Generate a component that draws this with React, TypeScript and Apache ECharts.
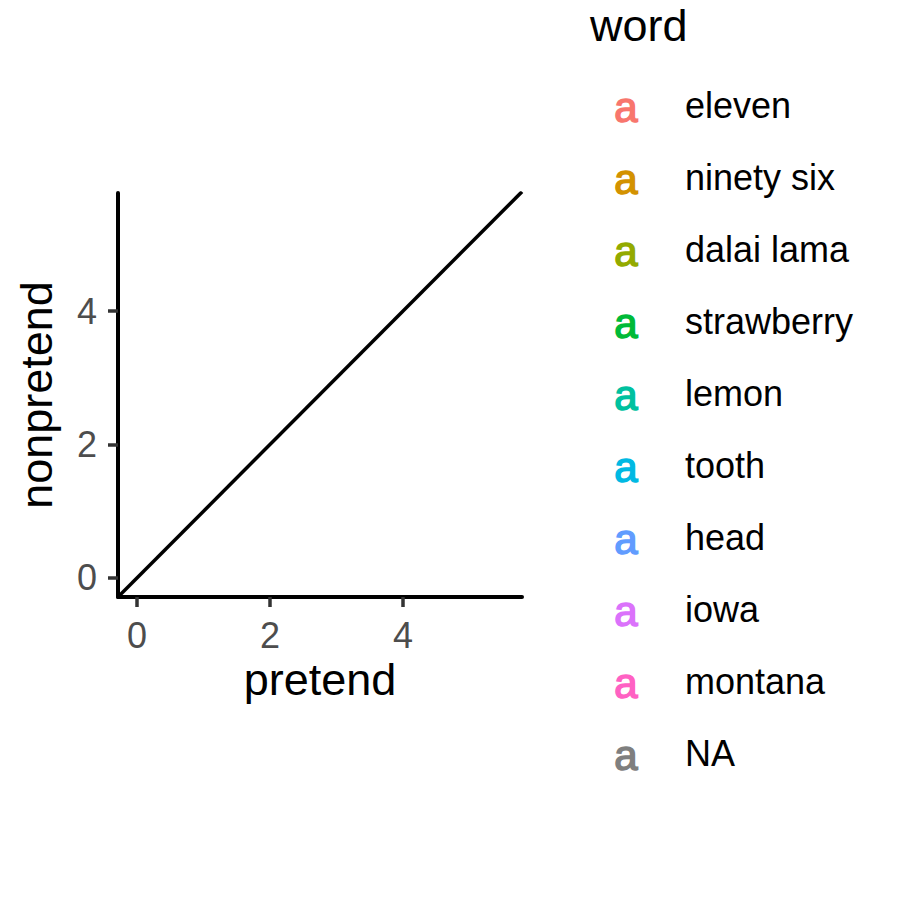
import React, { useEffect, useRef } from "react";
import * as echarts from "echarts";

const words = ["eleven", "ninety six", "dalai lama", "strawberry", "lemon", "tooth", "head", "iowa", "montana", "NA"];
const wordColors = ["#F8766D", "#D39200", "#93AA00", "#00BA38", "#00C19F", "#00B9E3", "#619CFF", "#DB72FB", "#FF61C3", "#7F7F7F"];
const xTicks = [0, 2, 4];
const yTicks = [0, 2, 4];
const xRange = [-0.286, 5.79];
const yRange = [-0.285, 5.77];
const ablineIntercept = 0;
const ablineSlope = 1;

const FONT = "Liberation Sans, Arial, sans-serif";

export default function App() {
  const ref = useRef<HTMLDivElement>(null);
  useEffect(() => {
    if (!ref.current) return;
    const chart = echarts.init(ref.current, null, { renderer: "svg" });
    const lineData = [xRange[0], xRange[1]].map((x) => [x, ablineIntercept + ablineSlope * x]);

    const legendEls: any[] = [
      {
        type: "text",
        left: 590,
        top: 3,
        style: { text: "word", fontSize: 45, fontFamily: FONT, fill: "#000000" },
      },
    ];
    words.forEach((w, i) => {
      const cy = 105 + i * 72;
      legendEls.push({
        type: "text",
        x: 626,
        y: cy + 2,
        style: {
          text: "a",
          fontSize: 42,
          fontWeight: "normal",
          fontFamily: FONT,
          fill: wordColors[i],
          stroke: wordColors[i],
          lineWidth: 1.5,
          align: "center",
          verticalAlign: "middle",
        },
      });
      legendEls.push({
        type: "text",
        x: 685,
        y: cy,
        style: {
          text: w,
          fontSize: 36,
          fontFamily: FONT,
          fill: "#000000",
          align: "left",
          verticalAlign: "middle",
        },
      });
    });

    chart.setOption({
      animation: false,
      backgroundColor: "#FFFFFF",
      grid: { left: 118, top: 193, width: 404, height: 404, containLabel: false },
      xAxis: {
        type: "value",
        min: xRange[0],
        max: xRange[1],
        name: "pretend",
        nameLocation: "middle",
        nameGap: 60,
        nameTextStyle: { fontSize: 45, fontFamily: FONT, color: "#000000" },
        axisLine: { show: true, onZero: false, lineStyle: { color: "#000000", width: 4 } },
        axisTick: { show: true, length: 10, customValues: xTicks, lineStyle: { color: "#333333", width: 3.5 } },
        axisLabel: { show: true, customValues: xTicks, margin: 20, fontSize: 36, fontFamily: FONT, color: "#4D4D4D" },
        splitLine: { show: false },
      },
      yAxis: {
        type: "value",
        min: yRange[0],
        max: yRange[1],
        name: "nonpretend",
        nameLocation: "middle",
        nameGap: 59,
        nameTextStyle: { fontSize: 45, fontFamily: FONT, color: "#000000" },
        axisLine: { show: true, onZero: false, lineStyle: { color: "#000000", width: 4 } },
        axisTick: { show: true, length: 10, customValues: yTicks, lineStyle: { color: "#333333", width: 3.5 } },
        axisLabel: { show: true, customValues: yTicks, margin: 21, fontSize: 36, fontFamily: FONT, color: "#4D4D4D" },
        splitLine: { show: false },
      },
      series: [
        {
          type: "line",
          data: lineData,
          showSymbol: false,
          clip: true,
          lineStyle: { color: "#000000", width: 3.5 },
          z: 3,
        },
      ],
      graphic: legendEls,
    });
    return () => chart.dispose();
  }, []);
  return <div ref={ref} style={{ position: "absolute", left: 0, top: 0, width: 900, height: 900 }} />;
}
